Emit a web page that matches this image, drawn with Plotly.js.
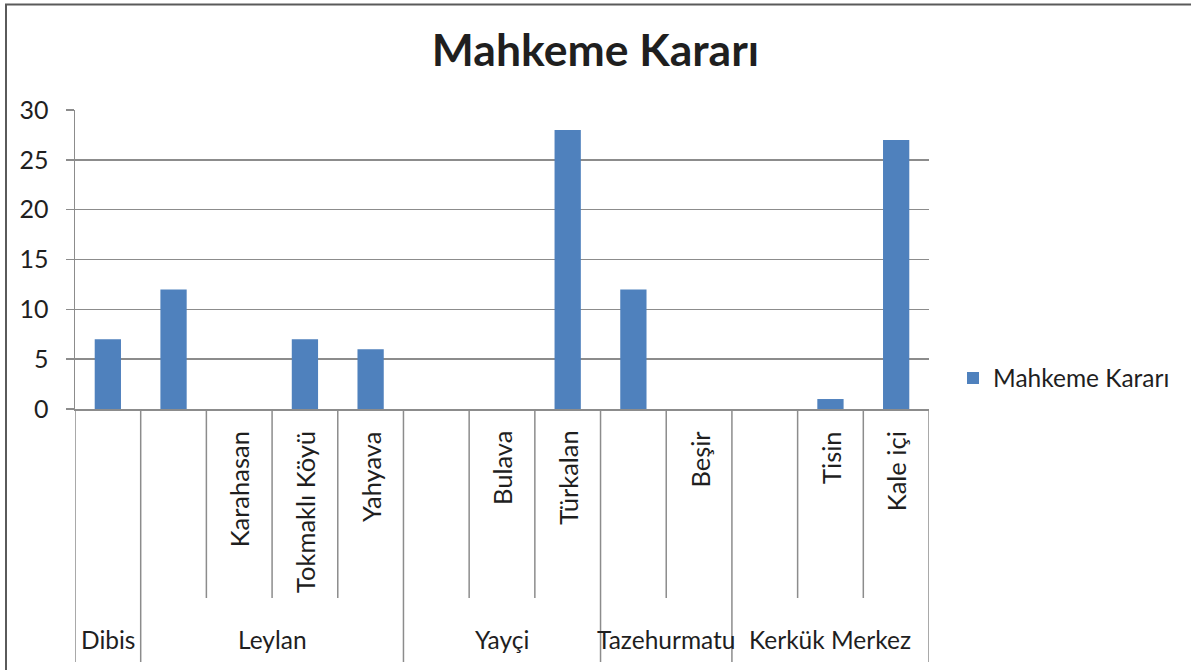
<!DOCTYPE html>
<html>
<head>
<meta charset="utf-8">
<script src="https://cdn.plot.ly/plotly-3.0.1.min.js"></script>
<style>html,body{margin:0;padding:0;background:#fff;}#chart{width:1191px;height:670px;}</style>
</head>
<body>
<div id="chart"></div>
<script>
// Data
var groups = ['Dibis', 'Leylan', 'Yayçi', 'Tazehurmatu', 'Kerkük Merkez'];
var groupSizes = [1, 4, 3, 2, 3];
var subLabels = ['', '', 'Karahasan', 'Tokmaklı Köyü', 'Yahyava', '', 'Bulava', 'Türkalan', '', 'Beşir', '', 'Tisin', 'Kale içi'];
var values = [7, 12, 0, 7, 6, 0, 0, 28, 12, 0, 0, 1, 27];
var seriesName = 'Mahkeme Kararı';
var yTicks = [0, 5, 10, 15, 20, 25, 30];

var FONT = 'Lato, "Open Sans", sans-serif';
var TXT = '#1f1f1f';
var LINE = '#8c8c8c';

var idx = values.map(function (v, i) { return i; });
var n = values.length;

// plot geometry helpers (paper coords relative to plot area)
var L = 75, R = 262, T = 110, B = 261, W = 1191, H = 670;
var pw = W - L - R, ph = H - T - B;
function py(p) { return (H - B - p) / ph; }
function px(p) { return (p - L) / pw; }

var shapes = [];
var annotations = [];

// group boundaries
var bounds = [-0.5];
var acc = -0.5;
groupSizes.forEach(function (s) { acc += s; bounds.push(acc); });
for (var b = 0; b <= n; b++) {
  var xb = b - 0.5;
  var full = bounds.indexOf(xb) >= 0;
  shapes.push({
    type: 'line', xref: 'x', yref: 'paper',
    x0: xb, x1: xb, y0: 0, y1: full ? py(662) : py(598),
    line: { color: LINE, width: 1.5 }
  });
}

// sub labels
subLabels.forEach(function (s, i) {
  if (!s) return;
  annotations.push({
    x: i, y: py(429), xref: 'x', yref: 'paper',
    text: s, showarrow: false, textangle: -90,
    xanchor: 'center', yanchor: 'top',
    font: { family: FONT, size: 25.5, color: TXT }
  });
});

// group labels
var start = 0;
groups.forEach(function (g, k) {
  var c = start + (groupSizes[k] - 1) / 2;
  annotations.push({
    x: c, y: py(639), xref: 'x', yref: 'paper',
    text: g, showarrow: false,
    xanchor: 'center', yanchor: 'middle',
    font: { family: FONT, size: 24.5, color: TXT }
  });
  start += groupSizes[k];
});

// outer chart border (left & top)
shapes.push({ type: 'line', xref: 'paper', yref: 'paper', x0: px(6), x1: px(6), y0: py(4), y1: py(680), line: { color: '#5a5a5a', width: 2 } });
shapes.push({ type: 'line', xref: 'paper', yref: 'paper', x0: px(5), x1: px(1200), y0: py(4.5), y1: py(4.5), line: { color: '#5a5a5a', width: 2 } });

var trace = {
  type: 'bar', x: idx, y: values, name: seriesName,
  width: 0.4,
  marker: { color: '#4F81BD', line: { width: 0 } },
  hoverinfo: 'skip'
};

var layout = {
  width: W, height: H,
  margin: { l: L, r: R, t: T, b: B, pad: 0 },
  paper_bgcolor: '#ffffff', plot_bgcolor: '#ffffff',
  font: { family: FONT, size: 24, color: TXT },
  title: {
    text: 'Mahkeme Kararı',
    font: { family: FONT, size: 44.5, color: TXT, weight: 'bold' },
    x: 0.5, xref: 'container', y: 1 - 50 / H, yref: 'container', yanchor: 'middle'
  },
  xaxis: {
    range: [-0.5, n - 0.5], showticklabels: false, ticks: '', showgrid: false,
    zeroline: false, showline: true, linecolor: LINE, linewidth: 1.5, fixedrange: true
  },
  yaxis: {
    range: [0, 30], tickvals: yTicks, ticktext: yTicks.map(String),
    showgrid: true, gridcolor: LINE, gridwidth: 1.5,
    ticks: 'outside', ticklen: 8, tickcolor: LINE, tickwidth: 1.5,
    showline: true, linecolor: LINE, linewidth: 1.5, zeroline: false,
    ticklabelstandoff: 12,
    tickfont: { family: FONT, size: 25, color: TXT }, fixedrange: true
  },
  showlegend: true,
  legend: {
    x: px(953), y: py(378), xanchor: 'left', yanchor: 'middle',
    font: { family: FONT, size: 24.5, color: TXT }, bgcolor: 'rgba(0,0,0,0)'
  },
  shapes: shapes,
  annotations: annotations
};

Plotly.newPlot('chart', [trace], layout, { displayModeBar: false, staticPlot: true });
</script>
</body>
</html>
